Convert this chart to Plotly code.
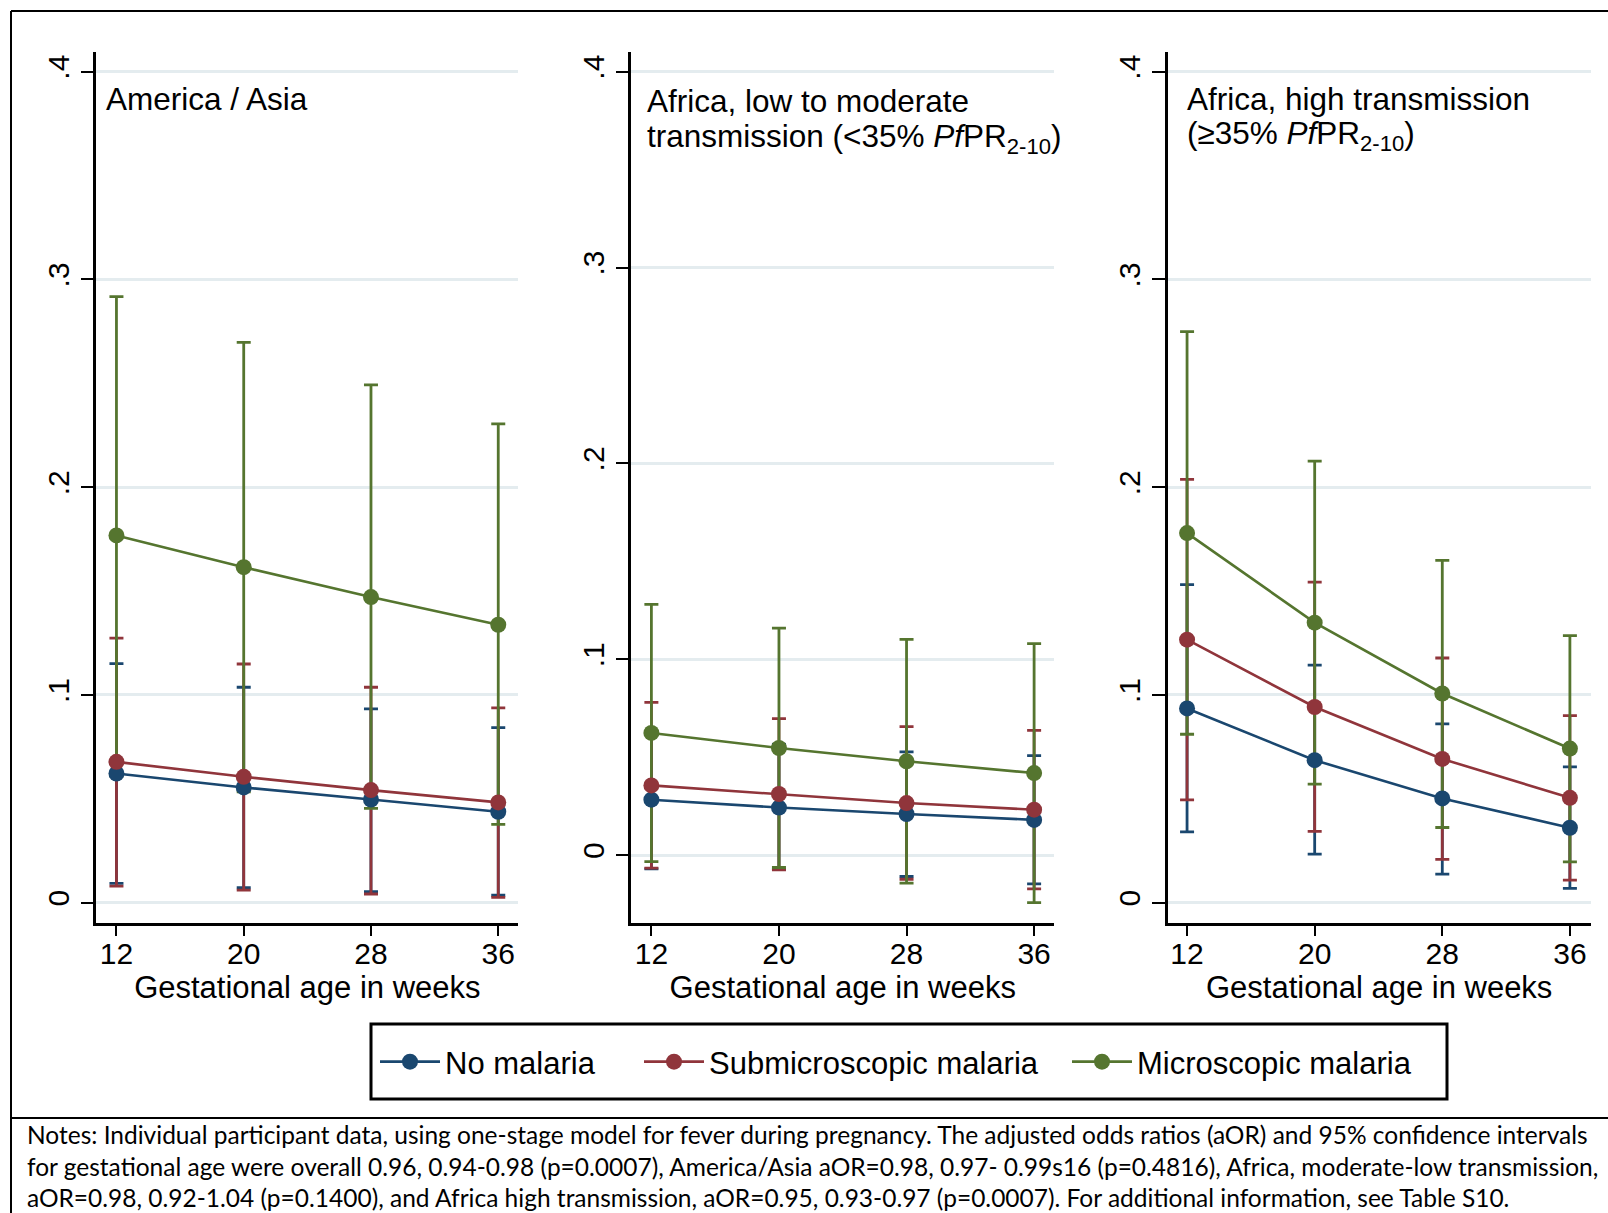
import plotly.graph_objects as go

W, H = 1608, 1213

weeks = [12, 20, 28, 36]
week_labels = ["12", "20", "28", "36"]
y_tickvals = [0, 0.1, 0.2, 0.3, 0.4]
y_ticktext = ["0", ".1", ".2", ".3", ".4"]
series_names = ["No malaria", "Submicroscopic malaria", "Microscopic malaria"]
series_colors = ["#1a476f", "#90353b", "#55752f"]

panel_titles = [
    ["America / Asia"],
    ["Africa, low to moderate", "transmission (&lt;35% <i>Pf</i>PR<sub>2-10</sub>)"],
    ["Africa, high transmission", "(≥35% <i>Pf</i>PR<sub>2-10</sub>)"],
]

# America / Asia
aa_no = [0.0622, 0.0555, 0.0497, 0.0438]
aa_no_lo = [0.0093, 0.0072, 0.0053, 0.0036]
aa_no_hi = [0.1151, 0.1037, 0.0933, 0.0843]
aa_sub = [0.0678, 0.0606, 0.0542, 0.0483]
aa_sub_lo = [0.0080, 0.0061, 0.0042, 0.0026]
aa_sub_hi = [0.1274, 0.1149, 0.1037, 0.0938]
aa_mic = [0.1768, 0.1615, 0.1471, 0.1338]
aa_mic_lo = [0.0610, 0.0534, 0.0454, 0.0377]
aa_mic_hi = [0.2917, 0.2697, 0.2492, 0.2305]

# Africa, low to moderate transmission
lo_no = [0.0283, 0.0243, 0.0210, 0.0180]
lo_no_lo = [-0.0070, -0.0072, -0.0109, -0.0147]
lo_no_hi = [0.0615, 0.0565, 0.0527, 0.0508]
lo_sub = [0.0356, 0.0312, 0.0266, 0.0232]
lo_sub_lo = [-0.0066, -0.0075, -0.0123, -0.0172]
lo_sub_hi = [0.0780, 0.0697, 0.0656, 0.0637]
lo_mic = [0.0624, 0.0547, 0.0479, 0.0419]
lo_mic_lo = [-0.0033, -0.0063, -0.0143, -0.0242]
lo_mic_hi = [0.1280, 0.1159, 0.1102, 0.1080]

# Africa, high transmission
hi_no = [0.0935, 0.0686, 0.0502, 0.0361]
hi_no_lo = [0.0341, 0.0234, 0.0138, 0.0069]
hi_no_hi = [0.1531, 0.1144, 0.0861, 0.0654]
hi_sub = [0.1266, 0.0942, 0.0692, 0.0505]
hi_sub_lo = [0.0495, 0.0343, 0.0209, 0.0109]
hi_sub_hi = [0.2038, 0.1543, 0.1178, 0.0901]
hi_mic = [0.1779, 0.1348, 0.1007, 0.0742]
hi_mic_lo = [0.0811, 0.0571, 0.0362, 0.0197]
hi_mic_hi = [0.2749, 0.2125, 0.1648, 0.1286]

panels = [
    [(aa_no, aa_no_lo, aa_no_hi), (aa_sub, aa_sub_lo, aa_sub_hi), (aa_mic, aa_mic_lo, aa_mic_hi)],
    [(lo_no, lo_no_lo, lo_no_hi), (lo_sub, lo_sub_lo, lo_sub_hi), (lo_mic, lo_mic_lo, lo_mic_hi)],
    [(hi_no, hi_no_lo, hi_no_hi), (hi_sub, hi_sub_lo, hi_sub_hi), (hi_mic, hi_mic_lo, hi_mic_hi)],
]

notes_lines = [
    "Notes: Individual participant data, using one-stage model for fever during pregnancy. The adjusted odds ratios (aOR) and 95% confidence intervals",
    "for gestational age were overall 0.96, 0.94-0.98 (p=0.0007), America/Asia aOR=0.98, 0.97- 0.99s16 (p=0.4816), Africa, moderate-low transmission,",
    "aOR=0.98, 0.92-1.04 (p=0.1400), and Africa high transmission, aOR=0.95, 0.93-0.97 (p=0.0007). For additional information, see Table S10.",
]

# layout geometry (pixels)
x_domains_px = [(96.4, 518.3), (631.3, 1054.2), (1167.6, 1590.8)]
y_domain_px = (51.7, 923.3)
x_ranges = [[10.74, 37.26], [10.74, 37.26], [10.78, 37.31]]
y_ranges = [[-0.0099, 0.4096], [-0.0348, 0.4102], [-0.0099, 0.4096]]
title_left_px = [103.5, 644.5, 1184.5]
title_center_px = [[99.0], [101.0, 138.5], [99.0, 135.5]]
legend_x_px = [375, 639, 1067]
legend_names = ["legend", "legend2", "legend3"]
notes_center_px = [1134, 1166, 1197]

FONT = "Liberation Sans, Arial, sans-serif"
GRID = "#e4ecef"

fig = go.Figure()

for p, panel in enumerate(panels):
    xa = "x" if p == 0 else f"x{p+1}"
    ya = "y" if p == 0 else f"y{p+1}"
    # confidence intervals
    for s, (mean, lo, hi) in enumerate(panel):
        fig.add_trace(go.Scatter(
            x=weeks, y=mean, xaxis=xa, yaxis=ya, mode="markers",
            marker=dict(size=1, color="rgba(0,0,0,0)"),
            error_y=dict(type="data", symmetric=False,
                         array=[h - m for h, m in zip(hi, mean)],
                         arrayminus=[m - l for m, l in zip(mean, lo)],
                         color=series_colors[s], thickness=2.8, width=7),
            showlegend=False, hoverinfo="skip"))
    # lines with markers
    for s, (mean, lo, hi) in enumerate(panel):
        fig.add_trace(go.Scatter(
            x=weeks, y=mean, xaxis=xa, yaxis=ya, mode="lines+markers",
            name=series_names[s],
            line=dict(color=series_colors[s], width=2.6),
            marker=dict(color=series_colors[s], size=16),
            showlegend=(p == 0), legend=legend_names[s]))

layout = dict(
    width=W, height=H, autosize=False,
    margin=dict(l=0, r=0, t=0, b=0, pad=0),
    paper_bgcolor="white", plot_bgcolor="white",
    font=dict(family=FONT, color="black", size=30),
    showlegend=True,
)
for s in range(3):
    layout[legend_names[s]] = dict(
        orientation="h", x=legend_x_px[s] / W, xanchor="left",
        y=1 - 1062 / H, yanchor="middle",
        bgcolor="rgba(0,0,0,0)", borderwidth=0,
        font=dict(size=31, family=FONT, color="black"),
        itemwidth=60, itemclick=False, itemdoubleclick=False)

ydom = [1 - y_domain_px[1] / H, 1 - y_domain_px[0] / H]
for p in range(3):
    xk = "xaxis" if p == 0 else f"xaxis{p+1}"
    yk = "yaxis" if p == 0 else f"yaxis{p+1}"
    xa_anchor = "y" if p == 0 else f"y{p+1}"
    ya_anchor = "x" if p == 0 else f"x{p+1}"
    layout[xk] = dict(
        domain=[x_domains_px[p][0] / W, x_domains_px[p][1] / W],
        range=x_ranges[p], anchor=xa_anchor,
        tickmode="array", tickvals=weeks, ticktext=week_labels,
        ticks="outside", ticklen=10, tickwidth=2, tickcolor="black",
        ticklabelstandoff=-8,
        showline=True, linecolor="black", linewidth=2.5,
        showgrid=False, zeroline=False,
        tickfont=dict(size=30, family=FONT, color="black"),
        title=dict(text="Gestational age in weeks", standoff=6,
                   font=dict(size=31, family=FONT, color="black")),
        fixedrange=True)
    layout[yk] = dict(
        domain=ydom, range=y_ranges[p], anchor=ya_anchor,
        tickmode="array", tickvals=y_tickvals, ticktext=y_ticktext,
        tickangle=-90,
        ticks="outside", ticklen=13, tickwidth=2, tickcolor="black",
        showline=True, linecolor="black", linewidth=2.5,
        showgrid=True, gridcolor=GRID, gridwidth=2.5, zeroline=False,
        tickfont=dict(size=30, family=FONT, color="black"),
        fixedrange=True)

fig.update_layout(**layout)

annotations = []
for p in range(3):
    for line, cy in zip(panel_titles[p], title_center_px[p]):
        annotations.append(dict(
            text=line, xref="paper", yref="paper",
            x=title_left_px[p] / W, y=1 - cy / H,
            xanchor="left", yanchor="middle", showarrow=False,
            font=dict(size=31.5, family=FONT, color="black")))

for line, cy in zip(notes_lines, notes_center_px):
    annotations.append(dict(
        text=line, xref="paper", yref="paper",
        x=25 / W, y=1 - cy / H, xanchor="left", yanchor="middle",
        showarrow=False,
        font=dict(size=24.5, family="Lato, Carlito, sans-serif", color="black")))
fig.update_layout(annotations=annotations)

shapes = [
    # outer frame
    dict(type="line", xref="paper", yref="paper", x0=11 / W, x1=1, y0=1 - 11 / H, y1=1 - 11 / H,
         line=dict(color="black", width=2)),
    dict(type="line", xref="paper", yref="paper", x0=11 / W, x1=11 / W, y0=1 - 11 / H, y1=0,
         line=dict(color="black", width=2)),
    dict(type="line", xref="paper", yref="paper", x0=11 / W, x1=1, y0=1 - 1118 / H, y1=1 - 1118 / H,
         line=dict(color="black", width=2)),
    # legend box
    dict(type="rect", xref="paper", yref="paper", x0=371 / W, x1=1447 / W,
         y0=1 - 1099 / H, y1=1 - 1024 / H, line=dict(color="black", width=3)),
]
fig.update_layout(shapes=shapes)

fig.write_html("out.html")
